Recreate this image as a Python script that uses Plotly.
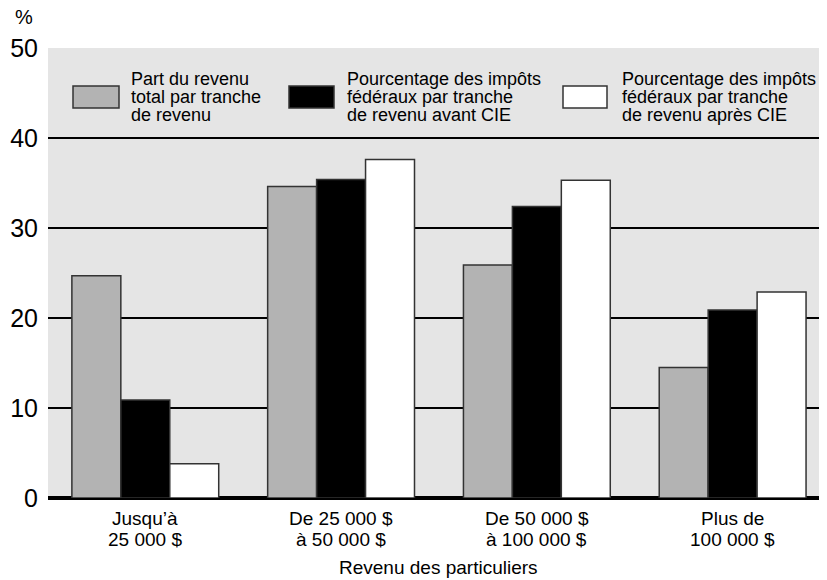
import plotly.graph_objects as go

categories = ["Jusqu’à 25 000 $", "De 25 000 $ à 50 000 $",
              "De 50 000 $ à 100 000 $", "Plus de 100 000 $"]
category_lines = [["Jusqu’à", "25 000 $"], ["De 25 000 $", "à 50 000 $"],
                  ["De 50 000 $", "à 100 000 $"], ["Plus de", "100 000 $"]]
series_names = [
    ["Part du revenu", "total par tranche", "de revenu"],
    ["Pourcentage des impôts", "fédéraux par tranche", "de revenu avant CIE"],
    ["Pourcentage des impôts", "fédéraux par tranche", "de revenu après CIE"],
]
part_revenu = [24.7, 34.6, 25.9, 14.5]
impots_avant = [10.9, 35.4, 32.4, 20.9]
impots_apres = [3.8, 37.6, 35.3, 22.9]
y_ticks = [0, 10, 20, 30, 40, 50]
y_unit = "%"
x_title = "Revenu des particuliers"

colors = ["#b3b3b3", "#000000", "#ffffff"]
FONT = "Liberation Sans, Arial, sans-serif"

OFF = 8  # page body margin
W, H = 827 - OFF, 580 - OFF
L, T = 48 - OFF, 48 - OFF
pw, ph = 779, 450
R, B = W - L - pw, H - T - ph

def px_x(px):
    return (px - OFF - L) / pw

def px_y(py):
    return 1 - (py - OFF - T) / ph

fig = go.Figure()
for vals, col, nm in zip([part_revenu, impots_avant, impots_apres], colors, series_names):
    fig.add_trace(go.Bar(
        x=categories, y=vals, name=" ".join(nm),
        marker=dict(color=col, line=dict(color="#333333", width=1.5)),
        showlegend=False,
    ))

# manual legend
swatches = [(73, 119), (289, 334), (563, 607)]
text_x = [129, 345, 620]
line_y = [79, 97, 115]
shapes = []
annotations = []
for (x0, x1), tx, nm, col in zip(swatches, text_x, series_names, colors):
    shapes.append(dict(type="rect", xref="paper", yref="paper",
                       x0=px_x(x0), x1=px_x(x1), y0=px_y(108), y1=px_y(86),
                       fillcolor=col, line=dict(color="#333333", width=1.5), layer="above"))
    for ln, ly in zip(nm, line_y):
        annotations.append(dict(text=ln, xref="paper", yref="paper", x=px_x(tx), y=px_y(ly),
                                xanchor="left", yanchor="middle", showarrow=False,
                                font=dict(family=FONT, size=18, color="#000")))

# category labels (two lines each, tight spacing)
for cat, lines in zip(categories, category_lines):
    for ln, ly in zip(lines, [518, 539]):
        annotations.append(dict(text=ln, xref="x", yref="paper", x=cat, y=px_y(ly),
                                xanchor="center", yanchor="middle", showarrow=False,
                                font=dict(family=FONT, size=19, color="#000")))

annotations.append(dict(text=y_unit, xref="paper", yref="paper", x=px_x(24), y=px_y(17),
                        xanchor="center", yanchor="middle", showarrow=False,
                        font=dict(family=FONT, size=20, color="#000")))
annotations.append(dict(text=x_title, xref="paper", yref="paper", x=px_x(438), y=px_y(567),
                        xanchor="center", yanchor="middle", showarrow=False,
                        font=dict(family=FONT, size=19, color="#000")))

fig.update_layout(
    width=W, height=H,
    margin=dict(l=L, r=R, t=T, b=B, pad=0),
    paper_bgcolor="white", plot_bgcolor="#e5e5e5",
    barmode="group", bargap=0.25, bargroupgap=0,
    font=dict(family=FONT, color="#000"),
    shapes=shapes, annotations=annotations,
    xaxis=dict(range=[-0.497, 3.482], showgrid=False, showline=False, ticks="",
               showticklabels=False, zeroline=False),
    yaxis=dict(range=[0, 50], tickvals=y_ticks, showgrid=True, gridcolor="#000000", gridwidth=1.5,
               zeroline=True, zerolinecolor="#000000", zerolinewidth=4,
               tickfont=dict(size=25), ticks="", ticklabelstandoff=9, showline=False),
)

fig.write_html("out.html")
